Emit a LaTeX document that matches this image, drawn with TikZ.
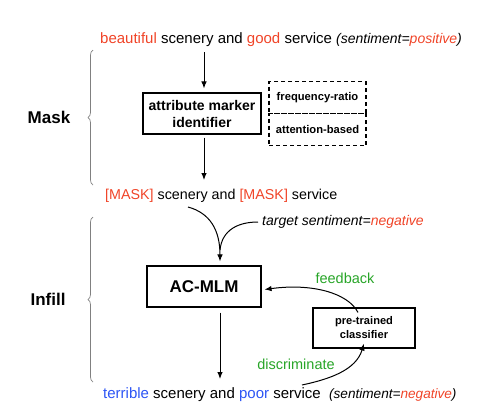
\documentclass[tikz,border=0pt]{standalone}
\usepackage{fontspec}
\setmainfont{Liberation Sans}
\usetikzlibrary{arrows.meta,decorations.pathreplacing,calc}
\definecolor{myred}{RGB}{240,68,40}
\definecolor{myblue}{RGB}{45,85,245}
\definecolor{mygreen}{RGB}{40,165,40}
\begin{document}
\begin{tikzpicture}[x=1pt,y=-1pt,
  sent/.style={inner sep=0pt,anchor=west,font=\fontsize{15}{18}\selectfont},
  side/.style={inner sep=0pt,font=\bfseries\fontsize{17}{20}\selectfont},
  box/.style={draw,line width=1.1pt,align=center,inner sep=0pt},
  dbox/.style={draw,dashed,dash pattern=on 4pt off 3pt,line width=1.1pt,align=center,inner sep=0pt,
    minimum width=97pt,minimum height=32pt,font=\bfseries\fontsize{11.2}{13}\selectfont},
  arr/.style={-{Latex[length=7pt,width=5.5pt]},line width=1pt},
  curv/.style={line width=1pt},
  bracestyle/.style={decorate,decoration={brace,amplitude=5pt,aspect=0.5},draw=gray,line width=0.7pt},
  green/.style={text=mygreen,inner sep=0pt,font=\fontsize{14.5}{17}\selectfont}
]
\useasboundingbox (0,0) rectangle (492,416);

% texts
\node[sent] (top) at (100,40) {\textcolor{myred}{beautiful} scenery and \textcolor{myred}{good} service {\fontsize{14}{17}\selectfont\itshape (sentiment=\textcolor{myred}{positive})}};
\node[sent,font=\fontsize{14.3}{17}\selectfont] (mask) at (105,196) {\textcolor{myred}{[MASK]} scenery and \textcolor{myred}{[MASK]} service};
\node[sent,font=\fontsize{14}{17}\selectfont\itshape] (target) at (262,222) {target sentiment=\textcolor{myred}{negative}};
\node[sent] (bottom) at (103,395) {\textcolor{myblue}{terrible} scenery and \textcolor{myblue}{poor} service \ {\fontsize{13.6}{17}\selectfont\itshape (sentiment=\textcolor{myred}{negative})}};

% side labels
\node[side] (masklab) at (49,117) {Mask};
\node[side] (infilllab) at (48,299) {Infill};

% braces
\coordinate (b1a) at (93,185);
\coordinate (b1b) at (93,50);
\coordinate (b2a) at (93,382);
\coordinate (b2b) at (93,217);
\draw[bracestyle] (b1a) -- (b1b);
\draw[bracestyle] (b2a) -- (b2b);

% boxes
\node[box,minimum width=118pt,minimum height=41pt,font=\bfseries\fontsize{14}{17}\selectfont] (attr) at (202,113.5) {attribute marker\\identifier};
\node[dbox] (freq) at (317.5,97.5) {frequency-ratio};
\node[dbox] (attn) at (317.5,129.5) {attention-based};
\node[box,minimum width=114pt,minimum height=41pt,font=\bfseries\fontsize{17}{20}\selectfont] (acmlm) at (204,286.5) {AC-MLM};
\node[box,minimum width=102pt,minimum height=40pt,font=\bfseries\fontsize{11.1}{14}\selectfont] (clf) at (364,328) {pre-trained\\classifier};

% green labels
\node[green] (fb) at (345,278) {feedback};
\node[green] (disc) at (296,364) {discriminate};

% arrows
\draw[arr] (top.south -| 204,0) ++(0,5) -- ([xshift=2pt,yshift=4pt]attr.north);
\draw[arr] ([xshift=2pt,yshift=-3pt]attr.south) -- (204,180);
\coordinate (mstart) at (188,207);
\coordinate (join) at (220,250);
\draw[arr] (mstart) .. controls (210,213) and (220,230) .. ([xshift=16pt,yshift=4pt]acmlm.north);
\draw[curv] ([xshift=-4pt]target.west) .. controls (238,222) and (222,230) .. (join);
\draw[arr] ([xshift=16pt,yshift=-5pt]acmlm.south) -- (220,379);
\draw[arr] ([xshift=-6pt,yshift=-5pt]clf.north) .. controls (348,293) and (312,283) .. ([xshift=3pt,yshift=-3pt]acmlm.east);
\coordinate (dstart) at (302,385);
\draw[arr] (dstart) .. controls (330,379) and (356,370) .. ([yshift=5pt]clf.south);
\end{tikzpicture}
\end{document}
